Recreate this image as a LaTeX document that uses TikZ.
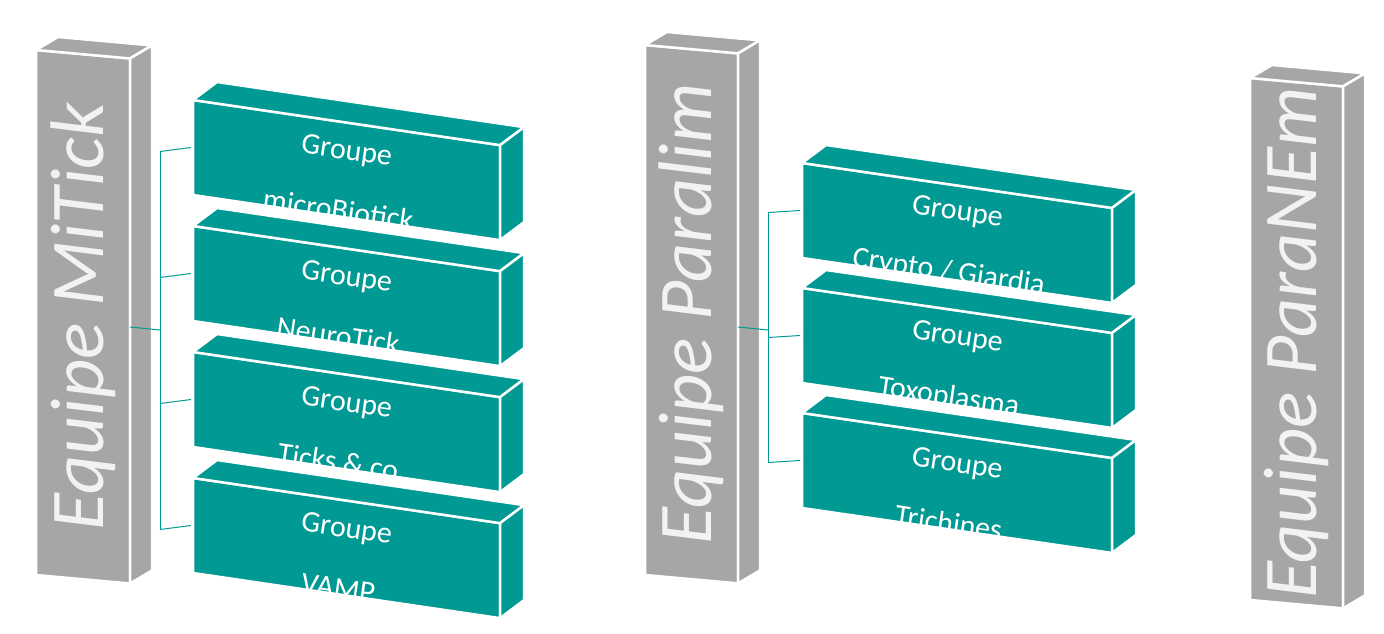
\documentclass[tikz,border=0pt]{standalone}
\usepackage{fontspec}
\setmainfont{Carlito}
\definecolor{teal1}{RGB}{0,153,148}
\definecolor{gray1}{RGB}{166,166,166}
\newcommand\slab[9]{%
  \fill[#6,draw=white,line width=2.5pt,line join=round] (#2,#3) -- ++(#4,{#4*#9}) -- ++(0,#5) -- ++(-#4,{-#4*#9}) -- cycle;
  \fill[#6,draw=white,line width=2.5pt,line join=round] (#2,#3) -- ++(#7,-#8) -- ++(#4,{#4*#9}) -- ++(-#7,#8) -- cycle;
  \fill[#6,draw=white,line width=2.5pt,line join=round] ({#2+#4},{#3+#4*#9}) -- ++(#7,-#8) -- ++(0,#5) -- ++(-#7,#8) -- cycle;
  \coordinate (#1-w) at (#2,{#3+#5/2});
  \coordinate (#1-e) at ({#2+#4},{#3+#4*#9+#5/2});
  \coordinate (#1-c) at ({#2+#4/2},{#3+#4*#9/2+#5/2});
}
\tikzset{
  grp/.style={text=white,font=\fontsize{30}{61}\selectfont,align=center,rotate=-8.3},
  eq/.style={text=white!95!black,font=\fontsize{76}{80}\selectfont\itshape,rotate=90},
  conn/.style={draw=teal1,line width=1pt}
}
\begin{document}
\begin{tikzpicture}[x=1pt,y=-1pt]
\useasboundingbox (0,0) rectangle (1384,634);
% pillars
\slab{p1}{36}{50}{94}{525}{gray1}{22}{13}{0.09}
\slab{p2}{645}{45}{93}{530}{gray1}{22}{13}{0.09}
\slab{p3}{1250}{78}{93}{522}{gray1}{22}{13}{0.09}
\node[eq] (t1) at (p1-c) {Equipe MiTick};
\node[eq] (t2) at (p2-c) {Equipe Paralim};
\node[eq] (t3) at (p3-c) {Equipe ParaNEm};
% MiTick groups
\slab{a1}{193}{100}{307}{95}{teal1}{24}{18}{0.147}
\slab{a2}{193}{226}{307}{95}{teal1}{24}{18}{0.147}
\slab{a3}{193}{352}{307}{95}{teal1}{24}{18}{0.147}
\slab{a4}{193}{478}{307}{95}{teal1}{24}{18}{0.147}
\node[grp] (g1) at ([xshift=-4,yshift=-10]a1-c) {Groupe\\microBiotick};
\node[grp] (g2) at ([xshift=-4,yshift=-10]a2-c) {Groupe\\NeuroTick};
\node[grp] (g3) at ([xshift=-4,yshift=-10]a3-c) {Groupe\\Ticks \& co};
\node[grp] (g4) at ([xshift=-4,yshift=-10]a4-c) {Groupe\\VAMP};
% Paralim groups
\slab{b1}{802}{163}{310}{95}{teal1}{24}{18}{0.145}
\slab{b2}{802}{288}{310}{95}{teal1}{24}{18}{0.145}
\slab{b3}{802}{413}{310}{95}{teal1}{24}{18}{0.145}
\node[grp] (h1) at ([xshift=-4,yshift=-10]b1-c) {Groupe\\Crypto / Giardia};
\node[grp] (h2) at ([xshift=-4,yshift=-10]b2-c) {Groupe\\Toxoplasma};
\node[grp] (h3) at ([xshift=-4,yshift=-10]b3-c) {Groupe\\Trichines};
% connectors
\coordinate (m1) at (160,330);
\draw[conn] (130,327) -- (m1);
\draw[conn] ([xshift=-33,yshift=-4]a1-w) -- ([xshift=-33,yshift=-4]a4-w);
\foreach \i in {1,...,4}{\draw[conn] ([xshift=-33,yshift=-4]a\i-w) -- ([xshift=-2]a\i-w);}
\draw[conn] (738,327) -- (768,330);
\draw[conn] ([xshift=-34,yshift=-2]b1-w) -- ([xshift=-34,yshift=-2]b3-w);
\foreach \i in {1,...,3}{\draw[conn] ([xshift=-34,yshift=-2]b\i-w) -- ([xshift=-2]b\i-w);}
\end{tikzpicture}
\end{document}
